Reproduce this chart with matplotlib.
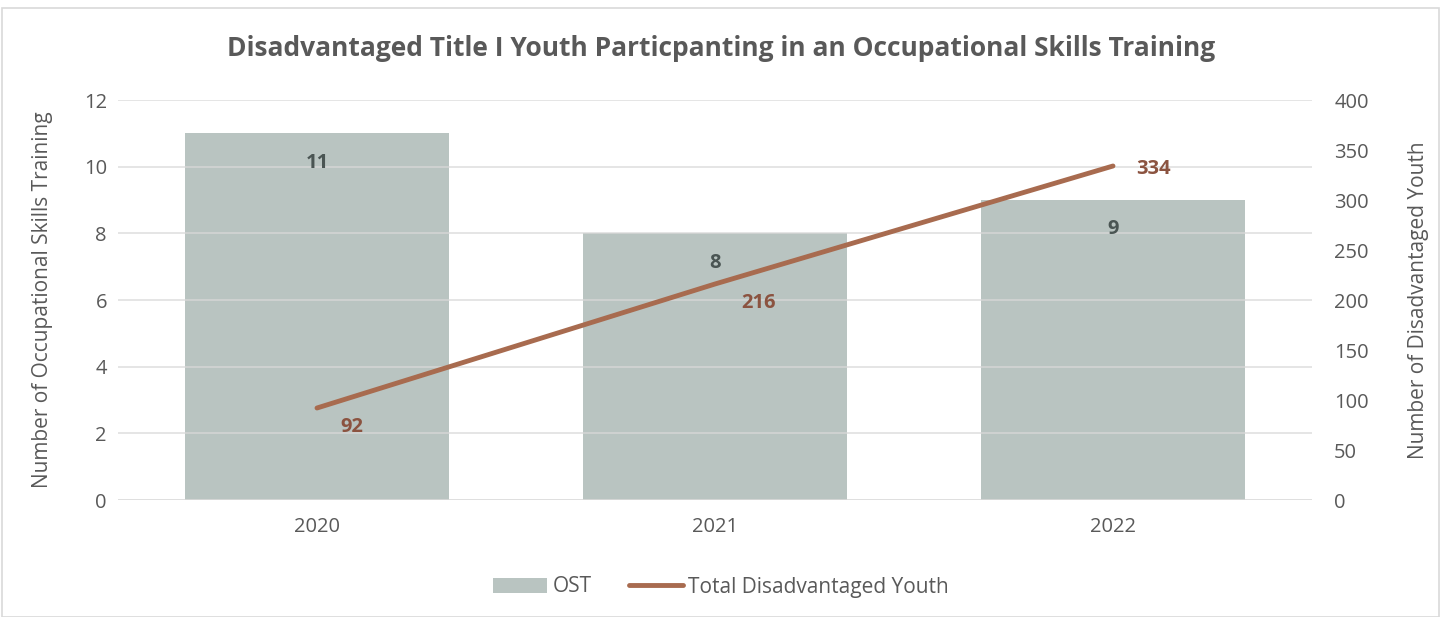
import matplotlib.pyplot as plt
from matplotlib.patches import Rectangle

years = ['2020', '2021', '2022']
ost = [11, 8, 9]
youth = [92, 216, 334]

bar_color = '#B9C4C1'
line_color = '#A86B4F'
text_color = '#595959'

plt.rcParams['font.family'] = ['Open Sans', 'DejaVu Sans']

fig = plt.figure(figsize=(14.42, 6.17), dpi=100)
ax = fig.add_axes([118 / 1442, 1 - 500 / 617, 1194 / 1442, 400 / 617])
ax2 = ax.twinx()

x = range(len(years))
bars = ax.bar(x, ost, width=0.663, color=bar_color, zorder=2, label='OST')
ax.set_ylim(0, 12)
ax.set_yticks(range(0, 13, 2))
ax.set_xlim(-0.5, 2.5)
ax.set_xticks(list(x))
ax.set_xticklabels(years)
for y in range(2, 13, 2):
    ax.axhline(y, color='#D9D9D9', lw=1.2, zorder=3, alpha=0.8)
ax.axhline(0, color='#D9D9D9', lw=1.2, zorder=3)

for xi, v in zip(x, ost):
    ax.annotate(str(v), (xi, v), xytext=(0, -21), textcoords='offset points',
                ha='center', va='center', fontsize=14.5, fontweight='bold', color='#4A5553',
                zorder=5)

ln, = ax2.plot(list(x), youth, color=line_color, lw=3.5, solid_capstyle='round',
               label='Total Disadvantaged Youth', zorder=4)
ax2.set_ylim(0, 400)
ax2.set_yticks(range(0, 401, 50))

offs = [(25, -14), (31, -14), (29, -2)]
for xi, v, o in zip(x, youth, offs):
    ax2.annotate(str(v), (xi, v), xytext=o, textcoords='offset points',
                 ha='center', va='center', fontsize=14.5, fontweight='bold', color='#8B5340')

for a in (ax, ax2):
    for s in a.spines.values():
        s.set_visible(False)
    a.tick_params(length=0, labelsize=14.5, colors=text_color, pad=8)
ax.tick_params(axis='x', pad=12)
ax2.tick_params(axis='y', pad=16)

ax.set_ylabel('Number of Occupational Skills Training', fontsize=15, color=text_color, labelpad=22)
ax2.set_ylabel('Number of Disadvantaged Youth', fontsize=15, color=text_color, labelpad=28)

fig.text(0.5, 1 - 48 / 617, 'Disadvantaged Title I Youth Particpanting in an Occupational Skills Training',
         ha='center', va='center', fontsize=19, fontweight='bold', color=text_color)

fig.legend([bars, ln], ['OST', 'Total Disadvantaged Youth'], loc='center',
           bbox_to_anchor=(0.5, 1 - 587 / 617), ncol=2, frameon=False, fontsize=15,
           labelcolor=text_color, handlelength=2.6, handletextpad=0.25, columnspacing=1.8)

fig.patches.append(Rectangle((2 / 1442, 0), 1437 / 1442, 1 - 8 / 617, transform=fig.transFigure,
                             fill=False, edgecolor='#D9D9D9', lw=1.2))

fig.savefig('out.png', dpi=100)
